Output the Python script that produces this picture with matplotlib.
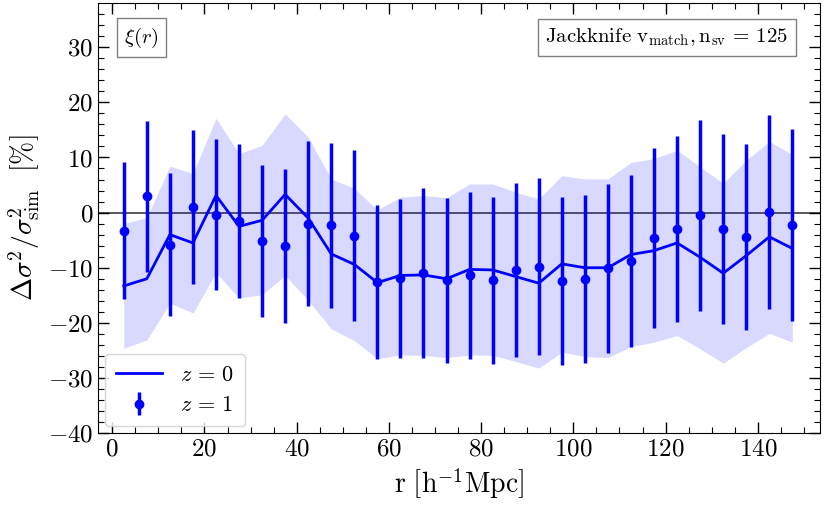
import numpy as np
import matplotlib
matplotlib.use('Agg')
import matplotlib.pyplot as plt

plt.rcParams['font.family'] = 'serif'
plt.rcParams['font.serif'] = ['cmr10']
plt.rcParams['mathtext.fontset'] = 'cm'
plt.rcParams['axes.formatter.use_mathtext'] = True

# bin centres
r = np.arange(2.5, 150, 5.0)

# z=0 (line) and its band
z0 = [-13.3, -12.0, -4.0, -5.5, 3.1, -2.5, -1.4, 3.3, -1.0, -7.5,
      -9.4, -12.7, -11.4, -11.3, -12.0, -10.3, -10.4, -11.6, -12.8, -9.3,
      -10.0, -10.0, -7.6, -6.9, -5.5, -8.1, -11.0, -7.8, -4.4, -6.5]
z0_hi = [-2.0, -0.9, 8.4, 7.1, 17.1, 10.7, 12.2, 17.9, 13.7, 6.1,
         4.4, 0.5, 2.8, 3.1, 2.7, 5.2, 5.2, 3.7, 2.5, 6.7,
         6.1, 6.1, 9.1, 9.8, 11.3, 8.3, 5.3, 9.5, 12.9, 10.5]
z0_lo = [-24.6, -23.1, -16.4, -18.2, -10.9, -15.5, -14.9, -11.4, -15.9, -21.1,
         -23.2, -26.5, -25.8, -25.9, -26.3, -25.8, -25.9, -27.0, -28.2, -25.3,
         -26.1, -26.3, -24.3, -23.5, -22.3, -24.7, -27.3, -24.5, -21.9, -23.5]

# z=1 (points with error bars)
z1 = [-3.3, 3.0, -5.8, 1.0, -0.4, -1.5, -5.2, -6.1, -2.0, -2.3,
      -4.2, -12.6, -11.9, -10.9, -12.3, -11.4, -12.3, -10.4, -9.8, -12.4,
      -12.1, -10.1, -8.8, -4.6, -3.0, -0.5, -3.0, -4.4, 0.05, -2.3]
z1_err = [12.4, 13.7, 12.9, 14.0, 13.7, 14.0, 13.8, 14.0, 15.0, 15.0,
          15.5, 14.0, 14.4, 15.4, 15.0, 15.2, 15.1, 15.7, 16.0, 15.2,
          15.2, 15.3, 15.6, 16.3, 16.9, 17.3, 17.2, 16.9, 17.6, 17.4]

fig = plt.figure(figsize=(8.3, 5.09), dpi=100)
ax = fig.add_axes([0.118, 0.149, 0.870, 0.845])

ax.axhline(0, color='k', lw=1.3, alpha=0.7, zorder=1)
ax.fill_between(r, z0_lo, z0_hi, color='b', alpha=0.15, lw=0)
ax.plot(r, z0, color='b', lw=2, label=r'$z\,=\,0$')
ax.errorbar(r, z1, yerr=z1_err, fmt='o', color='b', ms=6, elinewidth=2.5,
            capsize=0, label=r'$z\,=\,1$')

ax.set_xlim(-3.1, 153.5)
ax.set_ylim(-40, 38)
ax.set_xticks(np.arange(0, 141, 20))
ax.set_xticks(np.arange(0, 155, 5), minor=True)
ax.set_yticks(np.arange(-40, 31, 10))
ax.set_yticks(np.arange(-40, 38, 2), minor=True)
ax.tick_params(which='both', direction='in', top=True, right=True, labelsize=18)
ax.tick_params(which='major', length=8, width=1)
ax.tick_params(which='minor', length=4, width=0.8)

ax.set_xlabel(r'$\mathrm{r}\ \left[\mathrm{h^{-1}Mpc}\right]$', fontsize=20)
ax.set_ylabel(r'$\Delta\sigma^2/\sigma^2_{\rm sim}\ \ [\%]$', fontsize=20)

box = dict(boxstyle='square,pad=0.35', facecolor='white', edgecolor='gray')
ax.text(0.036, 0.92, r'$\xi(r)$', transform=ax.transAxes, fontsize=15,
        va='center', ha='left', bbox=box)
ax.text(0.956, 0.92, r'$\mathrm{Jackknife\ v_{match}, n_{sv}}\,=\,125$',
        transform=ax.transAxes, fontsize=15, va='center', ha='right', bbox=box)

ax.legend(loc='lower left', fontsize=16, handlelength=2.1, borderpad=0.5,
          borderaxespad=0.3, handletextpad=0.8)

fig.savefig('out.png', dpi=100)
